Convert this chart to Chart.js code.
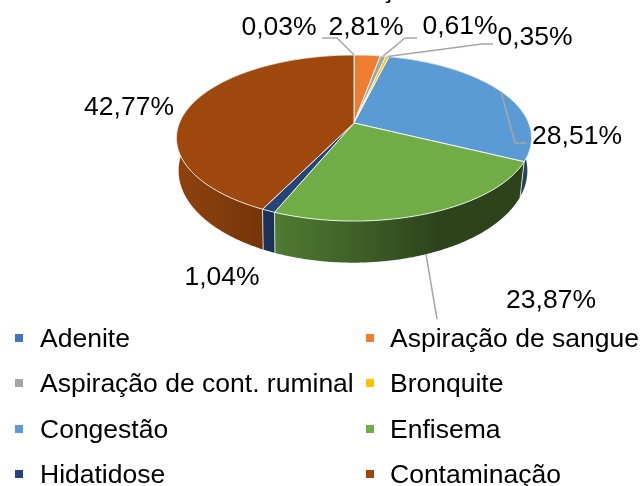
<!DOCTYPE html>
<html><head><meta charset="utf-8">
<style>html,body{margin:0;padding:0;background:#fff}canvas{display:block}</style>
<script src="https://cdn.jsdelivr.net/npm/chart.js@4"></script>
</head><body>
<canvas id="c" width="642" height="486"></canvas>
<script>
const categories = ["Adenite","Aspiração de sangue","Aspiração de cont. ruminal","Bronquite","Congestão","Enfisema","Hidatidose","Contaminação"];
const percentages = [0.03,2.81,0.61,0.35,28.51,23.87,1.04,42.77];
const colours = ["#4472c4","#ed7d31","#a5a5a5","#ffc000","#5b9bd5","#70ad47","#264478","#9e480e"];

const FONT = '"Liberation Sans", Arial, sans-serif';
const top3d = {cx:354, cy:123, rx:174.6, ry:80.3, k:0.181};
const low3d = {cx:353, cy:154, rx:171.5, ry:89, k:0.181};
const shadeStops = [[176,.92],[270,.72],[440,.39],[520,.39],[531,.5]];
const labelBoxes = [[279,28],[366,28],[460,27],[535,38],[577,137],[551,301],[222,278],[129,108]];
const leaderBends = [
  [[337,38],[322,38]], null, [[405,38],[417,38]], [[482,44],[493,44]],
  [[515,143],[527,143]], [[437,319]], null, null];
const legendCols = [[15,40],[366,390]];
const legendRows = [338,383,429,474];
const legendTextDrop = 1.5;

function rim(p, a){ // a: clockwise from 12 o'clock
  const u=Math.sin(a), v=Math.cos(a), d=1/(1+p.k*v);
  return [p.cx+p.rx*u*d, p.cy-p.ry*v*d];
}
function shade(hex,f){
  const n=parseInt(hex.slice(1),16);
  return `rgb(${Math.round((n>>16&255)*f)},${Math.round((n>>8&255)*f)},${Math.round((n&255)*f)})`;
}
function tracePts(ctx,pts,first){pts.forEach((q,i)=>{(i===0&&first)?ctx.moveTo(q[0],q[1]):ctx.lineTo(q[0],q[1]);});}
function arcPts(p,a0,a1){
  const n=Math.max(2,Math.ceil((a1-a0)/0.01)),r=[];
  for(let i=0;i<=n;i++)r.push(rim(p,a0+(a1-a0)*i/n));
  return r;
}

const pie3d = {
  id:'pie3d',
  beforeDatasetsDraw(chart){
    const ctx=chart.ctx, meta=chart.getDatasetMeta(0), cols=chart.data.datasets[0].backgroundColor;
    const wedges=meta.data.map((el,i)=>({a0:el.startAngle+Math.PI/2,a1:el.endAngle+Math.PI/2,col:cols[i],i}));
    ctx.save();
    // clipped chart title: only the cedilla tail reaches the top edge
    ctx.fillStyle='#000';ctx.textAlign='center';ctx.textBaseline='alphabetic';ctx.font='bold 24px '+FONT;
    ctx.fillText('ç',388,-2);
    // side wall
    wedges.forEach(w=>{
      const t=arcPts(top3d,w.a0,w.a1), b=arcPts(low3d,w.a0,w.a1).reverse();
      const g=ctx.createLinearGradient(176,0,531,0);
      shadeStops.forEach(s=>g.addColorStop((s[0]-176)/355,shade(w.col,s[1])));
      ctx.beginPath();tracePts(ctx,t,true);tracePts(ctx,b,false);ctx.closePath();
      ctx.fillStyle=g;ctx.fill();
    });
    // wall separators, front half only
    ctx.strokeStyle='rgba(255,255,255,.75)';ctx.lineWidth=1;
    wedges.forEach(w=>{
      const v=Math.cos(w.a0);
      if(v<-0.2){const a=rim(top3d,w.a0),b=rim(low3d,w.a0);
        ctx.beginPath();ctx.moveTo(a[0],a[1]);ctx.lineTo(b[0],b[1]);ctx.stroke();}
    });
    // top face
    wedges.forEach(w=>{
      ctx.beginPath();ctx.moveTo(top3d.cx,top3d.cy);tracePts(ctx,arcPts(top3d,w.a0,w.a1),false);ctx.closePath();
      ctx.fillStyle=w.col;ctx.fill();
      ctx.strokeStyle='rgba(255,255,255,.85)';ctx.lineWidth=1;ctx.stroke();
    });
    // leaders
    ctx.strokeStyle='#a6a6a6';ctx.lineWidth=1.5;
    wedges.forEach(w=>{
      const bend=leaderBends[w.i]; if(!bend)return;
      const mid=(w.a0+w.a1)/2;
      const s=Math.cos(mid)<-0.5?rim(low3d,mid):rim(top3d,mid);
      ctx.beginPath();ctx.moveTo(s[0],s[1]);bend.forEach(q=>ctx.lineTo(q[0],q[1]));ctx.stroke();
    });
    // percentage labels
    ctx.fillStyle='#000';ctx.textAlign='center';ctx.textBaseline='middle';ctx.font='26.5px '+FONT;
    chart.data.datasets[0].data.forEach((v,i)=>{
      ctx.fillText(v.toFixed(2).replace('.',',')+'%',labelBoxes[i][0],labelBoxes[i][1]);
    });
    // legend
    ctx.textAlign='left';ctx.font='26.5px '+FONT;
    chart.data.labels.forEach((name,i)=>{
      const col=legendCols[i%2], y=legendRows[Math.floor(i/2)];
      ctx.fillStyle=cols[i];ctx.fillRect(col[0],y-4,8,8);
      ctx.fillStyle='#000';ctx.fillText(name,col[1],y+legendTextDrop);
    });
    ctx.restore();
    return false;
  }
};

new Chart(document.getElementById('c'),{
  type:'pie',
  data:{labels:categories,datasets:[{data:percentages,backgroundColor:colours}]},
  options:{responsive:false,animation:false,plugins:{legend:{display:false},tooltip:{enabled:false}}},
  plugins:[pie3d]
});
</script>
</body></html>
